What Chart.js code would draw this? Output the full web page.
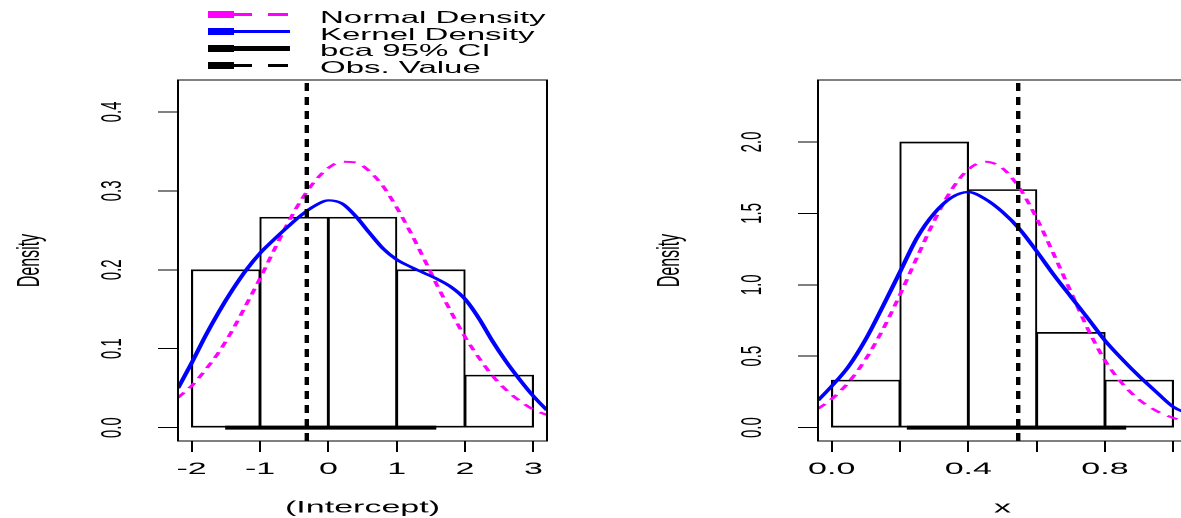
<!DOCTYPE html>
<html>
<head>
<meta charset="utf-8">
<script src="https://cdn.jsdelivr.net/npm/chart.js@4"></script>
<style>
  html, body { margin: 0; padding: 0; background: #fff; overflow: hidden; }
  #stage { position: absolute; left: 0; top: 0; width: 605px; height: 518px;
           transform: scaleX(2); transform-origin: 0 0;
           font-family: "Liberation Sans", Arial, sans-serif; }
  #left { position: absolute; left: 0; top: 0; }
  #right { position: absolute; left: 295px; top: 0; }
  .row { position: absolute; left: 0; width: 300px; height: 16.8px; line-height: 16.8px;
         font-size: 16.5px; color: #000; white-space: nowrap; }
  .row span { position: absolute; left: 160px; top: 0; }
  .seg { position: absolute; }
</style>
</head>
<body>
<div id="stage">
  <canvas id="left" width="295" height="518"></canvas>
  <canvas id="right" width="310" height="518"></canvas>
  <div id="legend"></div>
</div>
<script>
// legend
const legendLabels = ['Normal Density', 'Kernel Density', 'bca 95% CI', 'Obs. Value'];
const legendColors = ['#ff00ff', '#0000ff', '#000000', '#000000'];
const legendDashed = [true, false, false, true];

// left panel: (Intercept)
const leftGrid   = [-2.2, -2.0, -1.8, -1.6, -1.4, -1.2, -1.0, -0.8, -0.6, -0.4, -0.2, 0.0, 0.2, 0.4,
                    0.6, 0.8, 1.0, 1.2, 1.4, 1.6, 1.8, 2.0, 2.2, 2.4, 2.6, 2.8, 3.0, 3.2];
const leftNormal = [0.038, 0.053, 0.073, 0.096, 0.124, 0.156, 0.189, 0.224, 0.258, 0.288, 0.312, 0.329, 0.337, 0.336,
                    0.325, 0.306, 0.279, 0.248, 0.214, 0.179, 0.146, 0.115, 0.089, 0.066, 0.048, 0.034, 0.023, 0.016];
const leftKernel = [0.050, 0.082, 0.116, 0.147, 0.175, 0.200, 0.221, 0.238, 0.254, 0.269, 0.281, 0.288, 0.284, 0.268,
                    0.247, 0.227, 0.213, 0.204, 0.196, 0.188, 0.178, 0.163, 0.139, 0.110, 0.084, 0.061, 0.040, 0.022];
const leftBreaks = [-2, -1, 0, 1, 2, 3];
const leftHist   = [0.2, 0.2667, 0.2667, 0.2, 0.0667];
const leftObs    = -0.315;
const leftCI     = [-1.51, 1.58];
const leftXTicks = [-2, -1, 0, 1, 2, 3];
const leftXLabels = ['-2', '-1', '0', '1', '2', '3'];
const leftYTicks = [0, 0.1, 0.2, 0.3, 0.4];
const leftYLabels = ['0.0', '0.1', '0.2', '0.3', '0.4'];

// right panel: x
const rightGrid   = [-0.04, 0.0, 0.05, 0.1, 0.15, 0.2, 0.25, 0.3, 0.35, 0.4, 0.45, 0.5,
                     0.55, 0.6, 0.65, 0.7, 0.75, 0.8, 0.85, 0.9, 0.95, 1.0, 1.04];
const rightNormal = [0.132, 0.200, 0.319, 0.481, 0.688, 0.931, 1.193, 1.447, 1.662, 1.808, 1.862, 1.816,
                     1.677, 1.466, 1.214, 0.951, 0.69, 0.47, 0.31, 0.195, 0.118, 0.068, 0.043];
const rightKernel = [0.19, 0.29, 0.43, 0.62, 0.85, 1.09, 1.33, 1.50, 1.61, 1.65, 1.60, 1.51,
                     1.39, 1.235, 1.07, 0.917, 0.765, 0.61, 0.48, 0.36, 0.25, 0.145, 0.10];
const rightBreaks = [0, 0.2, 0.4, 0.6, 0.8, 1.0];
const rightHist   = [0.333, 2.0, 1.667, 0.667, 0.333];
const rightObs    = 0.546;
const rightCI     = [0.22, 0.862];
const rightXTicks = [0, 0.2, 0.4, 0.6, 0.8, 1.0];
const rightXLabels = ['0.0', '', '0.4', '', '0.8', ''];
const rightYTicks = [0, 0.5, 1.0, 1.5, 2.0];
const rightYLabels = ['0.0', '0.5', '1.0', '1.5', '2.0'];

const FONT = '"Liberation Sans", Arial, sans-serif';
Chart.defaults.font.family = FONT;
Chart.defaults.color = '#000';

const boxPlugin = {
  id: 'box',
  afterDraw(c) {
    const a = c.chartArea, ctx = c.ctx;
    ctx.save();
    ctx.strokeStyle = '#000';
    ctx.lineWidth = 1;
    ctx.strokeRect(a.left, a.top, a.right - a.left, a.bottom - a.top);
    ctx.restore();
  }
};

function panel(id, p) {
  const bars = p.hist.map((d, i) => ({x: (p.breaks[i] + p.breaks[i + 1]) / 2, y: d}));
  const curve = vals => p.grid.map((x, i) => ({x: x, y: vals[i]}));
  return new Chart(document.getElementById(id), {
    type: 'line',
    data: {
      datasets: [{
        type: 'line',
        data: [{x: p.obs, y: p.yMin}, {x: p.obs, y: p.yMax}],
        borderColor: '#000', borderWidth: 2.2, borderDash: [8, 6], pointRadius: 0, order: 1
      }, {
        type: 'line',
        data: p.ci.map(x => ({x: x, y: 0})),
        borderColor: '#000', borderWidth: 4, pointRadius: 0, order: 2
      }, {
        type: 'line',
        data: curve(p.kernel),
        borderColor: '#0000ff', borderWidth: 2.3, pointRadius: 0, cubicInterpolationMode: 'monotone', order: 3
      }, {
        type: 'line',
        data: curve(p.normal),
        borderColor: '#ff00ff', borderWidth: 2, borderDash: [6, 5], pointRadius: 0, cubicInterpolationMode: 'monotone', order: 4
      }, {
        type: 'bar',
        data: bars,
        backgroundColor: 'rgba(0,0,0,0)', borderColor: '#000',
        borderWidth: {top: 1, bottom: 1, left: 0.4, right: 0.4},
        borderSkipped: false, barPercentage: 1, categoryPercentage: 1, order: 5
      }]
    },
    options: {
      responsive: false,
      animation: false,
      devicePixelRatio: 2,
      events: [],
      layout: {padding: {left: 0, right: p.padRight, top: 80, bottom: 0}},
      plugins: {legend: {display: false}, tooltip: {enabled: false}},
      scales: {
        x: {
          type: 'linear', min: p.xMin, max: p.xMax, offset: false,
          afterFit: s => { s.height = 77; },
          afterBuildTicks: s => { s.ticks = p.xTicks.map(v => ({value: v})); },
          grid: {drawOnChartArea: false, tickLength: 11, color: '#000', offset: false},
          border: {display: false},
          ticks: {
            callback: (v, i) => p.xLabels[i],
            autoSkip: false, maxRotation: 0, minRotation: 0, padding: 7,
            font: {size: 17}, color: '#000'
          },
          title: {display: true, text: p.xTitle, font: {size: 17}, color: '#000', padding: {top: 0, bottom: 0}}
        },
        y: {
          type: 'linear', min: p.yMin, max: p.yMax,
          afterFit: s => { s.width = p.axisWidth; },
          afterBuildTicks: s => { s.ticks = p.yTicks.map(v => ({value: v})); },
          grid: {drawOnChartArea: false, tickLength: 10, color: '#000'},
          border: {display: false},
          ticks: {
            callback: (v, i) => p.yLabels[i],
            autoSkip: false, minRotation: 90, maxRotation: 90, crossAlign: 'center', padding: 12,
            font: {size: 15}, color: '#000'
          },
          title: {display: true, text: 'Density', font: {size: 16}, color: '#000', padding: {top: p.titlePad, bottom: 0}}
        }
      }
    },
    plugins: [boxPlugin]
  });
}

panel('left', {
  grid: leftGrid, normal: leftNormal, kernel: leftKernel, breaks: leftBreaks, hist: leftHist,
  obs: leftObs, ci: leftCI, xTicks: leftXTicks, xLabels: leftXLabels, yTicks: leftYTicks, yLabels: leftYLabels,
  xMin: -2.2, xMax: 3.2, yMin: -0.0169, yMax: 0.4405,
  xTitle: '(Intercept)', axisWidth: 89, padRight: 21.5, titlePad: 5.4
});

panel('right', {
  grid: rightGrid, normal: rightNormal, kernel: rightKernel, breaks: rightBreaks, hist: rightHist,
  obs: rightObs, ci: rightCI, xTicks: rightXTicks, xLabels: rightXLabels, yTicks: rightYTicks, yLabels: rightYLabels,
  xMin: -0.04, xMax: 1.04, yMin: -0.0936, yMax: 2.434,
  xTitle: 'x', axisWidth: 114, padRight: 11.5, titlePad: 30.4
});

// R-style legend above the left panel
const legend = document.getElementById('legend');
legendLabels.forEach((label, i) => {
  const row = document.createElement('div');
  row.className = 'row';
  row.style.top = (8.8 + i * 16.8) + 'px';
  const add = (left, width, height) => {
    const s = document.createElement('div');
    s.className = 'seg';
    s.style.left = left + 'px';
    s.style.width = width + 'px';
    s.style.height = height + 'px';
    s.style.top = (6.2 - height / 2) + 'px';
    s.style.background = legendColors[i];
    row.appendChild(s);
  };
  add(103.5, 13, 7);
  if (legendDashed[i]) {
    add(116.5, 9.5, 3);
    add(134, 9.5, 3);
  } else {
    add(116.5, 28.5, i === 2 ? 4.5 : 3);
  }
  const t = document.createElement('span');
  t.textContent = label;
  row.appendChild(t);
  legend.appendChild(row);
});
</script>
</body>
</html>
